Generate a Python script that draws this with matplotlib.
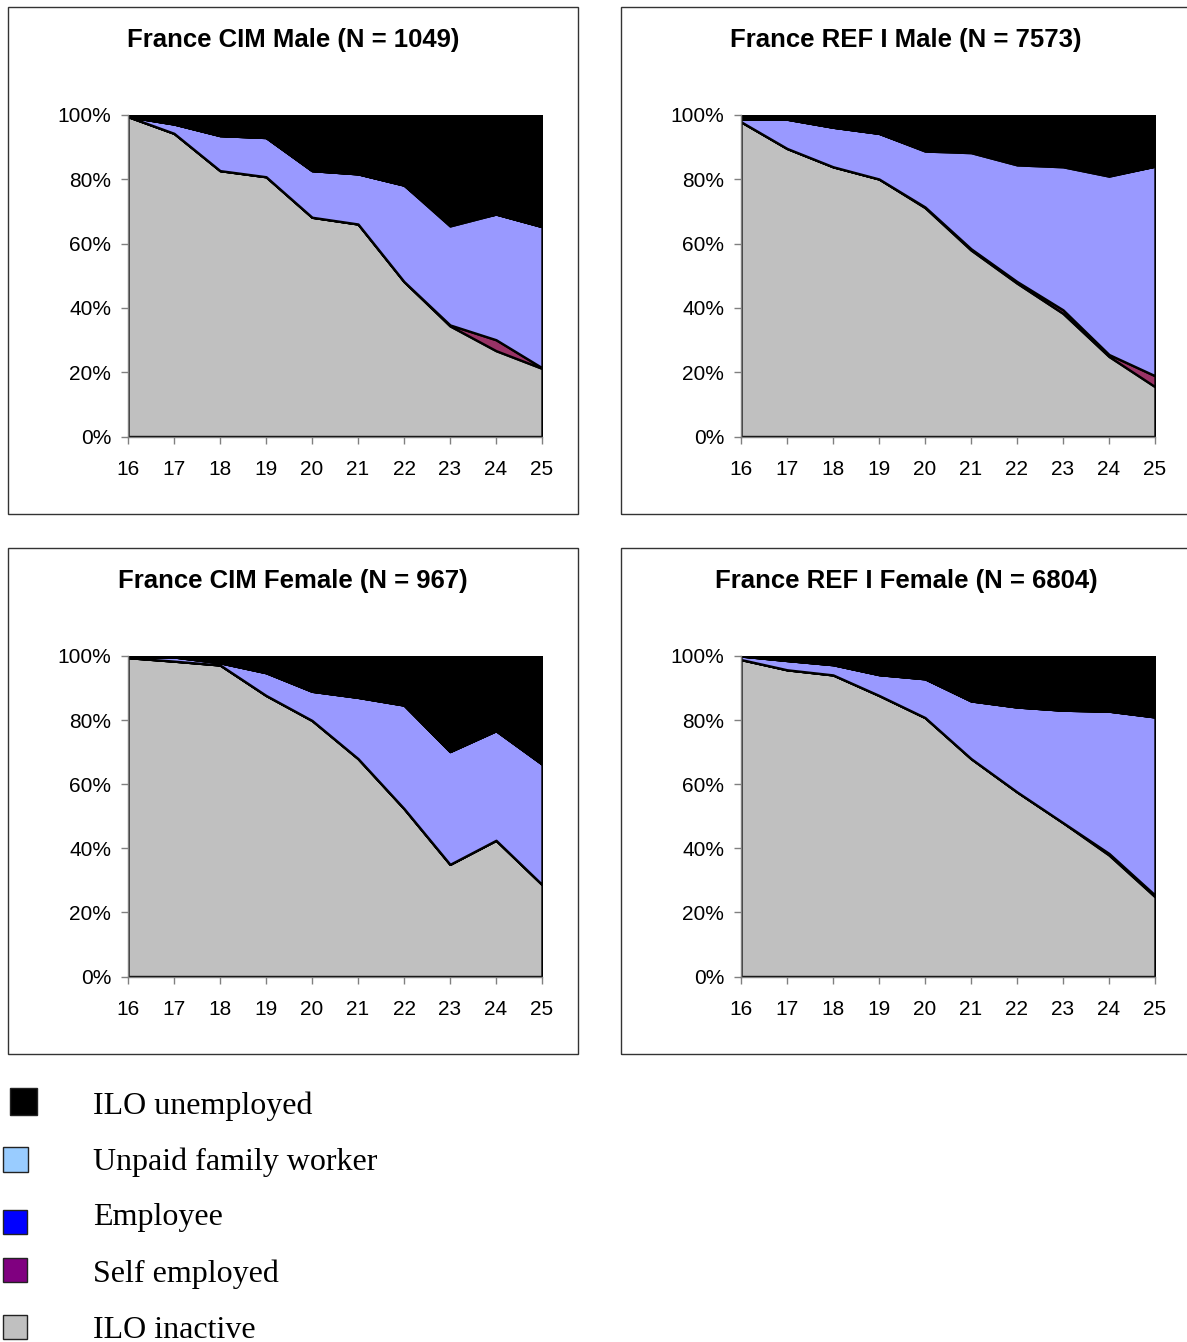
import matplotlib

matplotlib.use("Agg")
import matplotlib.pyplot as plt
from matplotlib.patches import Rectangle

ages = [16, 17, 18, 19, 20, 21, 22, 23, 24, 25]
series_names = ["ILO inactive", "Self employed", "Employee", "Unpaid family worker", "ILO unemployed"]

# shares in % (stack order bottom -> top, unemployed is the rest)
cim_male_inactive = [99.5, 94.3, 82.7, 80.8, 68.2, 66.1, 48.2, 34.4, 26.7, 21.2]
cim_male_self = [0, 0, 0, 0, 0, 0, 0, 0.3, 3.4, 0.2]
cim_male_employee = [0, 2.9, 10.9, 12.2, 14.5, 15.6, 30.0, 30.8, 39.1, 43.9]
cim_male_unpaid = [0, 0, 0, 0, 0, 0, 0, 0.8, 0, 0]

ref_male_inactive = [97.9, 89.6, 83.9, 80.1, 71.2, 58.0, 47.7, 38.3, 24.9, 15.5]
ref_male_self = [0, 0, 0, 0, 0.2, 0.4, 0.5, 1.1, 0.6, 3.4]
ref_male_employee = [0.8, 9.1, 12.3, 14.2, 17.4, 29.9, 36.3, 44.5, 55.5, 65.2]
ref_male_unpaid = [0, 0, 0, 0, 0.2, 0.5, 0.5, 0.5, 0.2, 0]

cim_female_inactive = [99.5, 98.4, 97.2, 87.7, 79.9, 68.0, 52.4, 35.0, 42.5, 28.7]
cim_female_self = [0, 0, 0, 0, 0, 0, 0, 0, 0, 0]
cim_female_employee = [0.3, 1.3, 0.7, 7.1, 9.1, 19.1, 32.3, 35.2, 34.2, 37.6]
cim_female_unpaid = [0, 0, 0, 0, 0, 0, 0, 0, 0, 0]

ref_female_inactive = [98.9, 95.7, 94.1, 87.7, 80.8, 68.0, 57.6, 48.0, 37.9, 24.9]
ref_female_self = [0, 0, 0, 0, 0, 0, 0, 0, 0.5, 0.5]
ref_female_employee = [1.1, 2.9, 3.2, 6.5, 12.1, 18.0, 26.5, 35.1, 44.4, 55.6]
ref_female_unpaid = [0, 0, 0, 0, 0, 0, 0, 0, 0, 0]

panel_titles = [
    "France CIM Male (N = 1049)",
    "France REF I Male (N = 7573)",
    "France CIM Female (N = 967)",
    "France REF I Female (N = 6804)",
]

legend_labels = ["ILO unemployed", "Unpaid family worker", "Employee", "Self employed", "ILO inactive"]
legend_colors = ["#000000", "#99CCFF", "#0000FF", "#800080", "#C0C0C0"]

# area fills as drawn in the panels (bottom -> top)
area_colors = ["#C0C0C0", "#993366", "#9999FF", "#FFFFFF", "#000000"]

W, H = 1187, 1342


def _fx(px):
    return px / W


def _fy(py):
    return 1 - py / H


def draw_panel(fig, ax_px, box_px, title, inactive, self_emp, employee, unpaid):
    x0, y0, x1, y1 = box_px
    fig.patches.append(
        Rectangle((_fx(x0), _fy(y1)), _fx(x1 - x0), (y1 - y0) / H,
                  transform=fig.transFigure, fill=False, edgecolor="#333333",
                  linewidth=1.0, zorder=0)
    )
    fig.text(_fx((x0 + x1) / 2), _fy(y0 + 33), title, ha="center", va="center",
             fontsize=18.5, fontweight="bold", family="Liberation Sans")

    left, top, right, bottom = ax_px
    ax = fig.add_axes([_fx(left), _fy(bottom), _fx(right - left), (bottom - top) / H])
    unemployed = [100 - a - b - c - d for a, b, c, d in zip(inactive, self_emp, employee, unpaid)]
    ax.stackplot(ages, inactive, self_emp, employee, unpaid, unemployed,
                 colors=area_colors, edgecolor="black", linewidth=1.7,
                 labels=series_names)
    ax.set_xlim(ages[0], ages[-1])
    ax.set_ylim(0, 100)
    ax.set_xticks(ages)
    ax.set_yticks([0, 20, 40, 60, 80, 100])
    ax.set_yticklabels([f"{v}%" for v in range(0, 101, 20)])
    for side in ("top", "right"):
        ax.spines[side].set_visible(False)
    for side in ("left", "bottom"):
        ax.spines[side].set_color("#808080")
        ax.spines[side].set_linewidth(1.0)
    ax.tick_params(axis="both", direction="out", length=5, width=1.0, color="#808080",
                   labelsize=15)
    ax.tick_params(axis="y", pad=7)
    ax.tick_params(axis="x", pad=12)
    for lab in ax.get_xticklabels() + ax.get_yticklabels():
        lab.set_family("Liberation Sans")
    return ax


def main():
    fig = plt.figure(figsize=(W / 100, H / 100), dpi=100)

    panels = [
        ((128, 115, 542, 436.5), (8, 7, 578, 514), panel_titles[0],
         cim_male_inactive, cim_male_self, cim_male_employee, cim_male_unpaid),
        ((741, 115, 1155, 436.5), (621, 7, 1191, 514), panel_titles[1],
         ref_male_inactive, ref_male_self, ref_male_employee, ref_male_unpaid),
        ((128, 656, 542, 976.5), (8, 548, 578, 1054), panel_titles[2],
         cim_female_inactive, cim_female_self, cim_female_employee, cim_female_unpaid),
        ((741, 656, 1155, 976.5), (621, 548, 1191, 1054), panel_titles[3],
         ref_female_inactive, ref_female_self, ref_female_employee, ref_female_unpaid),
    ]
    for ax_px, box_px, title, *values in panels:
        draw_panel(fig, ax_px, box_px, title, *values)

    # legend, hand placed under the panels like the original
    square_pos = [(10, 1088, 27), (3, 1147, 25), (3, 1210, 24), (3, 1258, 24), (3, 1315, 24)]
    text_y = [1106, 1162, 1218, 1274, 1330]
    for label, color, (sx, sy, size), ty in zip(legend_labels, legend_colors, square_pos, text_y):
        fig.patches.append(
            Rectangle((_fx(sx), _fy(sy + size)), _fx(size), size / H,
                      transform=fig.transFigure, facecolor=color,
                      edgecolor="#222222", linewidth=1.0)
        )
        fig.text(_fx(93), _fy(ty), label, ha="left", va="center",
                 fontsize=23, family="Liberation Serif")

    fig.savefig("out.png", dpi=100)
    plt.close(fig)


if __name__ == "__main__":
    main()
